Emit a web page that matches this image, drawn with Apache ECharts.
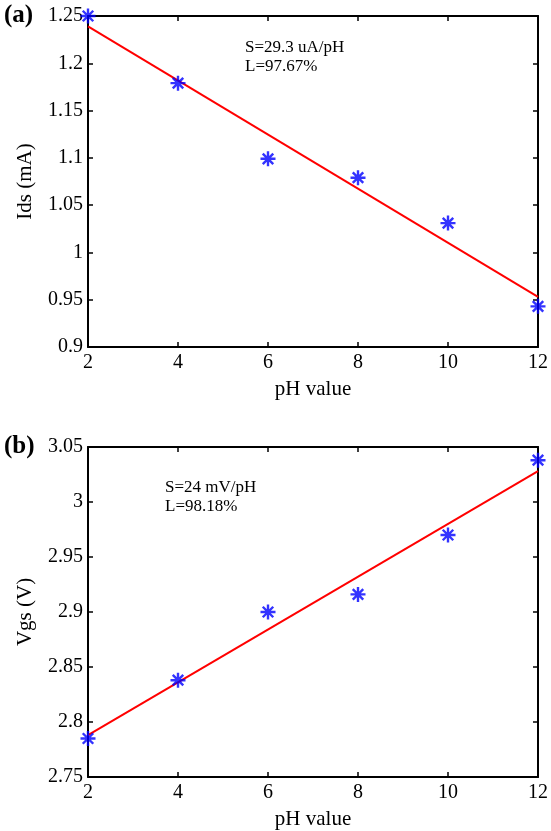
<!DOCTYPE html>
<html><head><meta charset="utf-8">
<script src="https://cdn.jsdelivr.net/npm/echarts@6/dist/echarts.min.js"></script>
<style>html,body{margin:0;padding:0;background:#fff}#c{width:551px;height:831px}</style>
</head><body><div id="c"></div>
<script>
// ---- data ----
const pH = [2, 4, 6, 8, 10, 12];
const idsA = [1.25, 1.179, 1.099, 1.079, 1.031, 0.943];
const fitXA = [2, 12];
const fitA = [1.239, 0.953];
const vgsB = [2.785, 2.838, 2.900, 2.916, 2.970, 3.038];
const fitXB = [2, 12];
const fitB = [2.788, 3.028];
const xTicks = [2, 4, 6, 8, 10, 12];
const annotA = ['S=29.3 uA/pH', 'L=97.67%'];
const annotB = ['S=24 mV/pH', 'L=98.18%'];

const FONT = '"Liberation Serif", "Times New Roman", serif';
const star = 'path://M10 0V20M0 10H20M3 3L17 17M3 17L17 3';
const axisLine = {show: true, lineStyle: {color: '#000', width: 2}};

function xAx(gi, bottom) {
  return {
    type: 'value', gridIndex: gi, position: bottom ? 'bottom' : 'top',
    min: xTicks[0], max: xTicks[xTicks.length - 1], interval: 2,
    axisLine: axisLine, splitLine: {show: false},
    axisTick: {show: true, inside: true, length: 5, lineStyle: {color: '#000', width: 1.5}},
    axisLabel: {show: bottom, color: '#000', fontFamily: FONT, fontSize: 20, margin: 6},
    name: bottom ? 'pH value' : '', nameLocation: 'middle', nameGap: 32,
    nameTextStyle: {color: '#000', fontFamily: FONT, fontSize: 21}
  };
}
function yAx(gi, left, min, max, name) {
  return {
    type: 'value', gridIndex: gi, position: left ? 'left' : 'right',
    min: min, max: max, interval: 0.05,
    axisLine: axisLine, splitLine: {show: false},
    axisTick: {show: true, inside: true, length: 5, lineStyle: {color: '#000', width: 1.5}},
    axisLabel: {show: left, color: '#000', fontFamily: FONT, fontSize: 20, margin: 5},
    name: left ? name : '', nameLocation: 'middle', nameGap: 52,
    nameTextStyle: {color: '#000', fontFamily: FONT, fontSize: 21}
  };
}
function pts(xs, ys) { return xs.map((x, i) => [x, ys[i]]); }

const chart = echarts.init(document.getElementById('c'));
chart.setOption({
  animation: false,
  backgroundColor: '#fff',
  grid: [
    {left: 88, right: 12, top: 16, height: 331},
    {left: 88, right: 12, top: 447, height: 331}
  ],
  xAxis: [xAx(0, true), xAx(0, false), xAx(1, true), xAx(1, false)],
  yAxis: [yAx(0, true, 0.9, 1.25, 'Ids (mA)'), yAx(0, false, 0.9, 1.25, ''),
          yAx(1, true, 2.75, 3.05, 'Vgs (V)'), yAx(1, false, 2.75, 3.05, '')],
  series: [
    {type: 'line', xAxisIndex: 0, yAxisIndex: 0, data: pts(fitXA, fitA), showSymbol: false,
     lineStyle: {color: '#ff0000', width: 2}, z: 2},
    {type: 'scatter', xAxisIndex: 0, yAxisIndex: 0, data: pts(pH, idsA), symbol: star, symbolSize: 15,
     clip: false, itemStyle: {color: 'rgba(0,0,0,0)', borderColor: '#0000ff', borderWidth: 2.4}, z: 3},
    {type: 'line', xAxisIndex: 2, yAxisIndex: 2, data: pts(fitXB, fitB), showSymbol: false,
     lineStyle: {color: '#ff0000', width: 2}, z: 2},
    {type: 'scatter', xAxisIndex: 2, yAxisIndex: 2, data: pts(pH, vgsB), symbol: star, symbolSize: 15,
     clip: false, itemStyle: {color: 'rgba(0,0,0,0)', borderColor: '#0000ff', borderWidth: 2.4}, z: 3}
  ],
  graphic: [
    {type: 'text', left: 4, top: 3, style: {text: '(a)', font: 'bold 25px ' + FONT, fill: '#000'}},
    {type: 'text', left: 4, top: 434, style: {text: '(b)', font: 'bold 25px ' + FONT, fill: '#000'}},
    {type: 'text', left: 245, top: 38, style: {text: annotA.join('\n'), font: '17px ' + FONT, fill: '#000', lineHeight: 19}},
    {type: 'text', left: 165, top: 478, style: {text: annotB.join('\n'), font: '17px ' + FONT, fill: '#000', lineHeight: 19}}
  ]
});
</script></body></html>
